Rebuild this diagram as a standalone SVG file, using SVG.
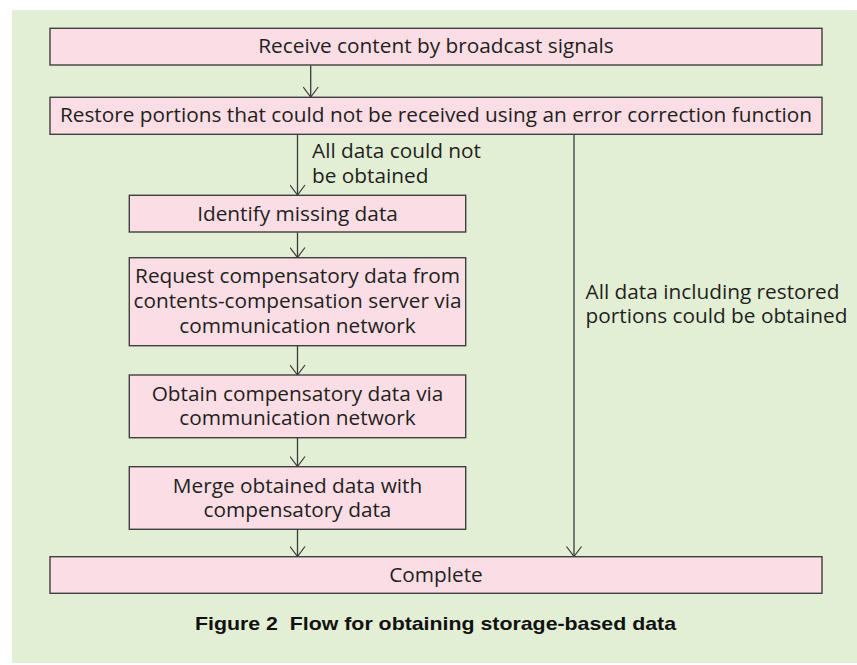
<svg xmlns="http://www.w3.org/2000/svg" width="857" height="665" viewBox="0 0 857 665">
  <style>
    .box { fill: #fbdde5; stroke: #3f3f3f; stroke-width: 1.4; }
    .txt { font-family: "Open Sans", "Noto Sans", "DejaVu Sans", sans-serif; font-size: 20.8px; fill: #231f20; }
    .mid { text-anchor: middle; }
    .link { stroke: #3a3a3a; stroke-width: 1.3; fill: none; marker-end: url(#vee); }
    .cap { font-family: "Liberation Sans", Arial, sans-serif; font-size: 19px; font-weight: bold; fill: #111; text-anchor: middle; }
  </style>
  <defs>
    <!-- open chevron arrowhead, tip at the line end -->
    <marker id="vee" viewBox="-11 -8 12 16" refX="0" refY="0" markerWidth="12" markerHeight="16" markerUnits="userSpaceOnUse" orient="auto">
      <path d="M-10,-7.5 L0,0 L-10,7.5" fill="none" stroke="#3a3a3a" stroke-width="1.2"/>
    </marker>
  </defs>

  <!-- panel background -->
  <rect x="12" y="10" width="845" height="653" fill="#e2efd4"/>

  <!-- connectors -->
  <g id="connectors">
    <line class="link" x1="310.7" y1="65.5" x2="310.7" y2="97"/>
    <line class="link" x1="297.5" y1="134.5" x2="297.5" y2="195"/>
    <line class="link" x1="297.5" y1="232.5" x2="297.5" y2="257.5"/>
    <line class="link" x1="297.5" y1="346" x2="297.5" y2="375"/>
    <line class="link" x1="297.5" y1="438" x2="297.5" y2="466.5"/>
    <line class="link" x1="297.5" y1="529.5" x2="297.5" y2="556.5"/>
    <line class="link" x1="574" y1="134.5" x2="574" y2="556.5"/>
    <text class="txt" x="312" y="158.3">All data could not</text>
    <text class="txt" x="312" y="183.3">be obtained</text>
    <text class="txt" x="585.5" y="299.3">All data including restored</text>
    <text class="txt" x="585.5" y="323.3">portions could be obtained</text>
  </g>

  <g id="receive">
    <rect class="box" x="50" y="28.3" width="772" height="36.7"/>
    <text class="txt mid" x="436" y="53.3">Receive content by broadcast signals</text>
  </g>

  <g id="restore">
    <rect class="box" x="50" y="97.3" width="772" height="37"/>
    <text class="txt mid" x="436" y="121.7">Restore portions that could not be received using an error correction function</text>
  </g>

  <g id="identify">
    <rect class="box" x="129.3" y="195.3" width="336.4" height="36.7"/>
    <text class="txt mid" x="297.5" y="220.7">Identify missing data</text>
  </g>

  <g id="request">
    <rect class="box" x="129.3" y="257.7" width="336.4" height="88"/>
    <text class="txt mid" x="297.5" y="283.3">Request compensatory data from</text>
    <text class="txt mid" x="297.5" y="307.7">contents-compensation server via</text>
    <text class="txt mid" x="297.5" y="333.3">communication network</text>
  </g>

  <g id="obtain">
    <rect class="box" x="129.3" y="375" width="336.4" height="62.7"/>
    <text class="txt mid" x="297.5" y="400.7">Obtain compensatory data via</text>
    <text class="txt mid" x="297.5" y="425">communication network</text>
  </g>

  <g id="merge">
    <rect class="box" x="129.3" y="466.7" width="336.4" height="62.6"/>
    <text class="txt mid" x="297.5" y="492.7">Merge obtained data with</text>
    <text class="txt mid" x="297.5" y="517.3">compensatory data</text>
  </g>

  <g id="complete">
    <rect class="box" x="50" y="556.7" width="772" height="36.6"/>
    <text class="txt mid" x="436" y="581.7">Complete</text>
  </g>

  <text class="cap" x="435.5" y="630" textLength="481" lengthAdjust="spacingAndGlyphs" xml:space="preserve">Figure 2  Flow for obtaining storage-based data</text>
</svg>
